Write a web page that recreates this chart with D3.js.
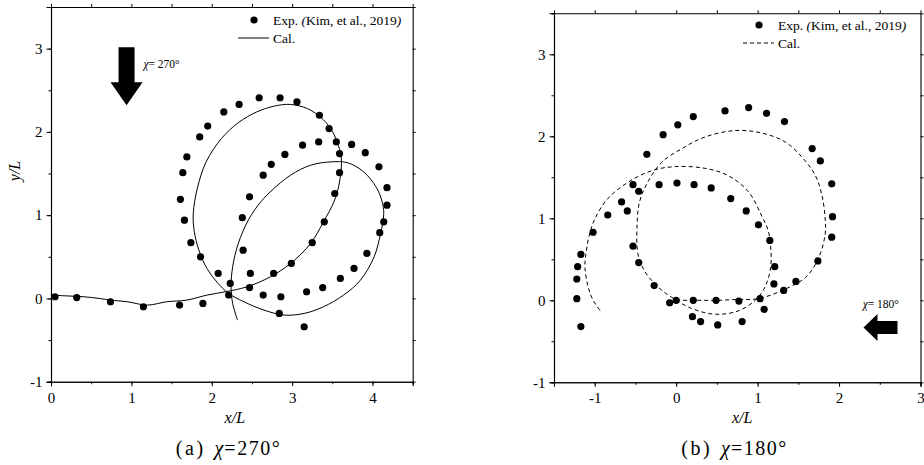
<!DOCTYPE html>
<html>
<head>
<meta charset="utf-8">
<script src="https://cdn.jsdelivr.net/npm/d3@7"></script>
<style>
  body { margin: 0; background: #fff; }
  svg { display: block; }
  text { font-family: "Liberation Serif", "Times New Roman", serif; fill: #000; }
</style>
</head>
<body>
<svg width="924" height="465"></svg>
<script>
// ---- data (x/L, y/L) ----

// (a) chi = 270 deg
const expA = [
  [0.05, 0.02], [0.32, 0.01], [0.74, -0.04], [1.15, -0.10], [1.60, -0.08], [1.89, -0.06],
  [2.21, 0.04], [2.23, 0.18], [2.48, 0.30], [2.77, 0.30], [2.99, 0.42], [3.25, 0.67],
  [3.40, 0.92], [3.53, 1.26], [3.59, 1.51], [3.59, 1.74], [3.55, 1.88], [3.46, 2.04],
  [3.34, 2.20], [3.06, 2.36], [2.85, 2.41], [2.59, 2.41], [2.34, 2.33], [2.15, 2.24],
  [1.95, 2.07], [1.85, 1.94], [1.69, 1.70], [1.64, 1.51], [1.61, 1.19], [1.66, 0.94],
  [1.74, 0.67], [1.86, 0.50], [2.08, 0.30], [2.47, 0.13], [2.64, 0.04], [2.86, 0.02],
  [2.84, -0.18], [3.15, -0.34], [3.18, 0.08], [3.38, 0.13], [3.60, 0.24], [3.77, 0.36],
  [3.93, 0.54], [4.09, 0.79], [4.14, 0.92], [4.18, 1.12], [4.18, 1.33], [4.08, 1.58],
  [3.91, 1.75], [3.74, 1.85], [3.33, 1.88], [3.13, 1.84], [2.91, 1.73], [2.74, 1.61],
  [2.64, 1.48], [2.47, 1.22], [2.38, 0.97], [2.39, 0.58]
];
const calA = [
  [0.01, 0.04], [0.20, 0.03], [0.41, 0.02], [0.60, 0.00], [0.74, -0.02], [0.95, -0.04],
  [1.20, -0.08], [1.44, -0.04], [1.69, -0.02], [1.94, 0.04], [2.17, 0.08], [2.44, 0.14],
  [2.73, 0.26], [2.98, 0.42], [3.23, 0.66], [3.39, 0.92], [3.52, 1.16], [3.58, 1.35],
  [3.61, 1.55], [3.61, 1.70], [3.56, 1.88], [3.48, 2.04], [3.35, 2.18], [3.19, 2.28],
  [2.98, 2.33], [2.78, 2.31], [2.56, 2.24], [2.33, 2.11], [2.12, 1.92], [1.93, 1.64],
  [1.82, 1.32], [1.77, 1.02], [1.78, 0.82], [1.84, 0.58], [1.94, 0.36], [2.07, 0.19],
  [2.21, 0.06], [2.40, -0.04], [2.65, -0.14], [2.90, -0.20], [3.15, -0.18], [3.39, -0.10],
  [3.64, 0.04], [3.85, 0.22], [4.02, 0.50], [4.10, 0.78], [4.14, 1.02], [4.12, 1.16],
  [4.05, 1.33], [3.89, 1.52], [3.69, 1.63], [3.48, 1.64], [3.23, 1.60], [2.98, 1.48],
  [2.75, 1.30], [2.61, 1.16], [2.46, 0.95], [2.33, 0.66], [2.26, 0.38], [2.24, 0.14],
  [2.26, -0.06], [2.32, -0.26]
];

// (b) chi = 180 deg
const expB = [
  [0.00, 0.00], [0.21, 0.00], [0.49, 0.00], [0.77, -0.01], [1.03, 0.02], [1.32, 0.12],
  [1.47, 0.23], [1.74, 0.48], [1.91, 0.77], [1.92, 1.02], [1.91, 1.42], [1.77, 1.70],
  [1.67, 1.85], [1.33, 2.18], [1.11, 2.28], [0.89, 2.35], [0.60, 2.31], [0.21, 2.24],
  [0.02, 2.14], [-0.16, 2.02], [-0.36, 1.78], [-0.53, 1.41], [-0.46, 1.33], [-0.53, 0.66],
  [-0.46, 0.46], [-0.27, 0.18], [-0.08, -0.03], [0.20, -0.20], [0.30, -0.26], [0.51, -0.30],
  [0.81, -0.26], [1.08, -0.11], [1.20, 0.20], [1.21, 0.41], [1.15, 0.73], [1.01, 0.92],
  [0.86, 1.09], [0.67, 1.24], [0.43, 1.37], [0.22, 1.41], [0.01, 1.43], [-0.21, 1.41],
  [-0.60, 1.09], [-0.67, 1.20], [-0.84, 1.04], [-1.02, 0.83], [-1.17, 0.56], [-1.21, 0.41],
  [-1.22, 0.26], [-1.22, 0.02], [-1.17, -0.32]
];
const calB = [
  [0.00, 0.00], [0.25, 0.00], [0.50, 0.00], [0.75, 0.01], [1.01, 0.02], [1.30, 0.12],
  [1.59, 0.28], [1.75, 0.52], [1.83, 0.81], [1.83, 0.99], [1.79, 1.28], [1.71, 1.52],
  [1.55, 1.74], [1.34, 1.93], [1.05, 2.04], [0.72, 2.07], [0.35, 1.99], [0.07, 1.85],
  [-0.18, 1.68], [-0.35, 1.44], [-0.45, 1.20], [-0.48, 0.92], [-0.47, 0.57], [-0.39, 0.36],
  [-0.22, 0.16], [-0.06, 0.04], [0.19, -0.10], [0.48, -0.17], [0.76, -0.13], [0.97, 0.00],
  [1.09, 0.16], [1.16, 0.40], [1.16, 0.65], [1.13, 0.85], [1.05, 1.03], [0.89, 1.32],
  [0.64, 1.52], [0.35, 1.61], [-0.02, 1.63], [-0.30, 1.58], [-0.59, 1.44], [-0.84, 1.24],
  [-1.00, 0.99], [-1.07, 0.78], [-1.11, 0.55], [-1.12, 0.40], [-1.08, 0.16], [-1.02, 0.00],
  [-0.93, -0.13]
];

// tick labels
const xTicksA = [0, 1, 2, 3, 4];
const xTicksB = [-1, 0, 1, 2, 3];
const yTicks = [-1, 0, 1, 2, 3];

const svg = d3.select('svg');
const SERIF = '"Liberation Serif", "Times New Roman", serif';
const blank = () => '';
const fmt = d => d < 0 ? '-' + Math.abs(d) : d;

function drawPanel(p) {
  const x = d3.scaleLinear().domain(p.xDomain).range([p.left, p.right]);
  const y = d3.scaleLinear().domain(p.yDomain).range([p.bottom, p.top]);
  const g = svg.append('g');

  const minor = (dom) => d3.range(dom[0], dom[1] + 0.001, 0.5);

  // box axes, ticks pointing outward
  g.append('g').attr('transform', `translate(0,${p.bottom})`)
    .call(d3.axisBottom(x).tickValues(minor(p.xDomain)).tickSize(2.5).tickFormat(blank));
  g.append('g').attr('transform', `translate(0,${p.bottom})`)
    .call(d3.axisBottom(x).tickValues(p.xTicks).tickSize(4.5).tickPadding(6).tickFormat(fmt));
  g.append('g').attr('transform', `translate(0,${p.top})`)
    .call(d3.axisTop(x).tickValues(minor(p.xDomain)).tickSizeInner(3).tickSizeOuter(0).tickFormat(blank));
  g.append('g').attr('transform', `translate(${p.left},0)`)
    .call(d3.axisLeft(y).tickValues(minor(p.yDomain)).tickSize(2.5).tickFormat(blank));
  g.append('g').attr('transform', `translate(${p.left},0)`)
    .call(d3.axisLeft(y).tickValues(yTicks).tickSize(4.5).tickPadding(4).tickFormat(fmt));
  g.append('g').attr('transform', `translate(${p.right},0)`)
    .call(d3.axisRight(y).tickValues(minor(p.yDomain)).tickSizeInner(3).tickSizeOuter(0).tickFormat(blank));

  g.selectAll('.domain').attr('stroke', '#000').attr('stroke-width', 1.1);
  g.selectAll('.tick line').attr('stroke', '#000');
  g.selectAll('.tick text')
    .attr('font-family', SERIF)
    .attr('font-size', 15)
    .attr('fill', '#000');

  // calculated trajectory
  g.append('path')
    .datum(p.cal)
    .attr('fill', 'none')
    .attr('stroke', '#000')
    .attr('stroke-width', 1)
    .attr('stroke-dasharray', p.dash)
    .attr('d', d3.line().x(d => x(d[0])).y(d => y(d[1])).curve(d3.curveCatmullRom.alpha(0.5)));

  // experiment points
  g.selectAll('circle.exp')
    .data(p.exp)
    .enter().append('circle')
    .attr('class', 'exp')
    .attr('cx', d => x(d[0]))
    .attr('cy', d => y(d[1]))
    .attr('r', 3.6)
    .attr('fill', '#000');

  // x label
  g.append('text')
    .attr('x', (p.left + p.right) / 2 + p.xLabelShift)
    .attr('y', 423)
    .attr('text-anchor', 'middle')
    .attr('font-family', SERIF)
    .attr('font-size', 16)
    .attr('font-style', 'italic')
    .text('x/L');

  // legend
  const lg = g.append('g').attr('transform', `translate(${p.legend[0]},${p.legend[1]})`)
    .attr('font-family', SERIF).attr('font-size', 13.5);
  lg.append('circle').attr('cx', 0).attr('cy', 0).attr('r', 3.6).attr('fill', '#000');
  const t1 = lg.append('text').attr('x', 19).attr('y', 4.7);
  t1.append('tspan').text('Exp. ');
  t1.append('tspan').attr('font-style', 'italic').text('(');
  t1.append('tspan').text('Kim, et al., 2019');
  t1.append('tspan').attr('font-style', 'italic').text(')');
  lg.append('line')
    .attr('x1', -16).attr('x2', 15).attr('y1', 18).attr('y2', 18)
    .attr('stroke', '#000').attr('stroke-width', 1)
    .attr('stroke-dasharray', p.dash);
  lg.append('text').attr('x', 19).attr('y', 22.7).text('Cal.');

  // wave direction arrow
  const [ax, ay] = [x(p.arrow[0]), y(p.arrow[1])];
  const arrowPath = p.arrowDir === 'down'
    ? `M${ax},${ay} L${ax - 16},${ay - 23} L${ax - 8},${ay - 23} L${ax - 8},${ay - 58} L${ax + 8},${ay - 58} L${ax + 8},${ay - 23} L${ax + 16},${ay - 23} Z`
    : `M${ax},${ay} L${ax + 14},${ay - 13.5} L${ax + 14},${ay - 6.5} L${ax + 34},${ay - 6.5} L${ax + 34},${ay + 6.5} L${ax + 14},${ay + 6.5} L${ax + 14},${ay + 13.5} Z`;
  g.append('path').attr('d', arrowPath).attr('fill', '#000');

  const lab = g.append('text')
    .attr('x', x(p.chiLabel[0]))
    .attr('y', y(p.chiLabel[1]))
    .attr('font-family', SERIF)
    .attr('font-size', 11.5);
  lab.append('tspan').attr('font-style', 'italic').text('χ');
  lab.append('tspan').text('= ' + p.chi + '°');

  // caption under the panel
  const cap = svg.append('text')
    .attr('x', (p.left + p.right) / 2 - 56)
    .attr('y', 455)
    .attr('font-family', SERIF)
    .attr('font-size', 20);
  cap.append('tspan').attr('letter-spacing', 2.5).text(p.tag);
  cap.append('tspan').attr('dx', 9).attr('font-style', 'italic').text('χ');
  cap.append('tspan').attr('dx', 1).attr('letter-spacing', 1.5).text('=' + p.chi + '°');

  return { x, y };
}

drawPanel({
  left: 51, right: 412.7, top: 7, bottom: 381.7,
  xDomain: [0, 4.5], yDomain: [-1, 3.5], xTicks: xTicksA,
  exp: expA, cal: calA, dash: null,
  legend: [254, 20], arrow: [0.94, 2.32], arrowDir: 'down',
  chiLabel: [1.15, 2.77], chi: 270, tag: '(a)', xLabelShift: 3
});

drawPanel({
  left: 554, right: 920.5, top: 13.3, bottom: 382.3,
  xDomain: [-1.5, 3], yDomain: [-1, 3.5], xTicks: xTicksB,
  exp: expB, cal: calB, dash: '4,3',
  legend: [759, 25], arrow: [2.30, -0.333], arrowDir: 'left',
  chiLabel: [2.29, -0.09], chi: 180, tag: '(b)', xLabelShift: 5
});

// y label, only on the left panel
svg.append('text')
  .attr('transform', 'translate(20,171) rotate(-90)')
  .attr('text-anchor', 'middle')
  .attr('font-family', SERIF)
  .attr('font-size', 16)
  .attr('font-style', 'italic')
  .text('y/L');
</script>
</body>
</html>
